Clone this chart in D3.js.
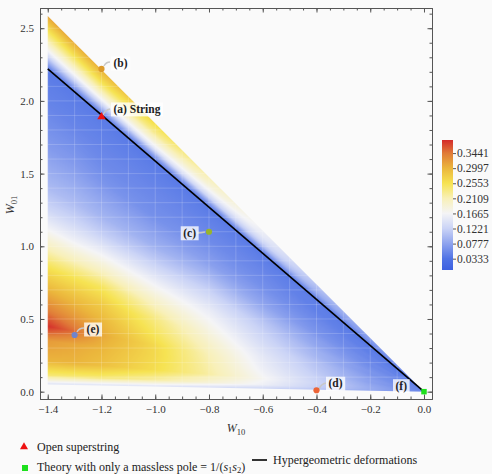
<!DOCTYPE html>
<html>
<head>
<meta charset="utf-8">
<script src="https://cdn.jsdelivr.net/npm/d3@7"></script>
<style>
  body { margin: 0; background: #fafafa; }
  svg { display: block; font-family: "Liberation Serif", serif; }
</style>
</head>
<body>
<svg id="chart"></svg>
<script>
// density field, sampled along columns of W10 and rays of slope t = W01 / -W10
const fieldX = [-1.4, -1.3, -1.2, -1.0, -0.8, -0.6, -0.4, -0.2, 0.0];
const fieldT = [0.04, 0.08, 0.15, 0.25, 0.32, 0.4, 0.5, 0.6, 0.7, 0.8, 0.9, 1.0, 1.1, 1.2,
                1.3, 1.4, 1.5, 1.586, 1.62, 1.67, 1.72, 1.78, 1.843];
const fieldValues = [
  [0.15, 0.15, 0.15, 0.15, 0.14, 0.13, 0.11, 0.08, 0.05],
  [0.24, 0.24, 0.24, 0.22, 0.19, 0.16, 0.12, 0.085, 0.05],
  [0.30, 0.30, 0.29, 0.26, 0.22, 0.17, 0.125, 0.085, 0.05],
  [0.32, 0.31, 0.30, 0.265, 0.215, 0.16, 0.12, 0.08, 0.05],
  [0.38, 0.35, 0.31, 0.265, 0.21, 0.155, 0.115, 0.075, 0.05],
  [0.34, 0.32, 0.30, 0.25, 0.20, 0.15, 0.11, 0.075, 0.05],
  [0.30, 0.29, 0.28, 0.235, 0.185, 0.14, 0.105, 0.07, 0.05],
  [0.26, 0.255, 0.25, 0.205, 0.17, 0.13, 0.095, 0.065, 0.05],
  [0.21, 0.205, 0.20, 0.175, 0.155, 0.12, 0.09, 0.065, 0.05],
  [0.165, 0.16, 0.16, 0.145, 0.135, 0.11, 0.08, 0.06, 0.05],
  [0.125, 0.125, 0.12, 0.115, 0.115, 0.095, 0.075, 0.055, 0.05],
  [0.10, 0.10, 0.095, 0.09, 0.095, 0.08, 0.065, 0.055, 0.05],
  [0.085, 0.085, 0.08, 0.075, 0.075, 0.07, 0.06, 0.05, 0.045],
  [0.07, 0.07, 0.065, 0.06, 0.065, 0.06, 0.055, 0.05, 0.045],
  [0.06, 0.06, 0.055, 0.055, 0.055, 0.055, 0.05, 0.045, 0.045],
  [0.05, 0.05, 0.05, 0.05, 0.05, 0.05, 0.045, 0.045, 0.04],
  [0.045, 0.045, 0.045, 0.045, 0.045, 0.045, 0.045, 0.04, 0.04],
  [0.04, 0.04, 0.04, 0.04, 0.04, 0.04, 0.04, 0.04, 0.04],
  [0.09, 0.09, 0.09, 0.08, 0.07, 0.065, 0.055, 0.05, 0.045],
  [0.16, 0.16, 0.16, 0.15, 0.125, 0.105, 0.075, 0.055, 0.045],
  [0.21, 0.21, 0.21, 0.19, 0.16, 0.13, 0.09, 0.065, 0.045],
  [0.26, 0.26, 0.26, 0.23, 0.19, 0.15, 0.10, 0.07, 0.045],
  [0.31, 0.305, 0.30, 0.26, 0.21, 0.16, 0.11, 0.075, 0.045]
];

// outline of the sampled region
const regionX = [-1.4, -1.4, 0.0];
const regionY = [0.049, 2.584, 0.0];

// hypergeometric deformations line
const hyperX = [-1.4, 0.0];
const hyperY = [2.22, 0.0];

// marked theories
const pointLabels = ["(a) String", "(b)", "(c)", "(d)", "(e)", "(f)"];
const pointX = [-1.2, -1.2, -0.8, -0.4, -1.3, 0.0];
const pointY = [1.89, 2.22, 1.10, 0.01, 0.39, 0.0];

// axis ticks
const xTicks = [-1.4, -1.2, -1.0, -0.8, -0.6, -0.4, -0.2, 0.0];
const yTicks = [0.0, 0.5, 1.0, 1.5, 2.0, 2.5];
const barTicks = [0.0333, 0.0777, 0.1221, 0.1665, 0.2109, 0.2553, 0.2997, 0.3441];
const barMax = 0.3826;
const barStops = [0, 0.0333, 0.0777, 0.1221, 0.1665, 0.2109, 0.2553, 0.2997, 0.3441, 0.3826];
const barColors = ["#3d60e0", "#5073e5", "#8ea3ee", "#cad3f6", "#f4f4f6", "#f8f0b8",
                   "#f6e352", "#ebb63c", "#e07a38", "#d42a2a"];

const width = 492, height = 474;
const svg = d3.select("#chart").attr("width", width).attr("height", height);

const pLeft = 40, pRight = 432, pTop = 8, pBottom = 399;
const x = d3.scaleLinear().domain([-1.4288, 0.0298]).range([pLeft, pRight]);
const y = d3.scaleLinear().domain([-0.0504, 2.639]).range([pBottom, pTop]);
const color = d3.scaleLinear().domain(barStops).range(barColors).interpolate(d3.interpolateRgb);

// ---- density image ----
function lookup(arr, v) {
  let i = d3.bisectRight(arr, v) - 1;
  i = Math.max(0, Math.min(arr.length - 2, i));
  let f = (v - arr[i]) / (arr[i + 1] - arr[i]);
  return [i, Math.max(0, Math.min(1, f))];
}
function fieldAt(X, Y) {
  const xc = Math.max(-1.4, Math.min(0, X));
  const t = Y / Math.max(-xc, 1e-4);
  const [i, fx] = lookup(fieldX, xc);
  const [j, ft] = lookup(fieldT, Math.max(0.04, Math.min(1.843, t)));
  const a = fieldValues[j][i], b = fieldValues[j][i + 1];
  const c = fieldValues[j + 1][i], d = fieldValues[j + 1][i + 1];
  return (a * (1 - fx) + b * fx) * (1 - ft) + (c * (1 - fx) + d * fx) * ft;
}

const lut = d3.range(512).map(k => d3.rgb(color(k / 511 * barMax)));
const W = pRight - pLeft, H = pBottom - pTop;
const canvas = document.createElement("canvas");
canvas.width = W; canvas.height = H;
const ctx = canvas.getContext("2d");
const img = ctx.createImageData(W, H);
for (let j = 0; j < H; j++) {
  for (let i = 0; i < W; i++) {
    const v = fieldAt(x.invert(pLeft + i + 0.5), y.invert(pTop + j + 0.5));
    const c = lut[Math.max(0, Math.min(511, Math.round(v / barMax * 511)))];
    const p = (j * W + i) * 4;
    img.data[p] = c.r; img.data[p + 1] = c.g; img.data[p + 2] = c.b; img.data[p + 3] = 255;
  }
}
ctx.putImageData(img, 0, 0);

const defs = svg.append("defs");
defs.append("clipPath").attr("id", "wedge")
  .append("polygon")
  .attr("points", regionX.map((d, i) => [x(d), y(regionY[i])].join(",")).join(" "));

const field = svg.append("g").attr("clip-path", "url(#wedge)");
field.append("image")
  .attr("x", pLeft).attr("y", pTop)
  .attr("width", W).attr("height", H)
  .attr("preserveAspectRatio", "none")
  .attr("href", canvas.toDataURL());

// faint mesh seams of the sampled plot
const meshX = d3.range(-14, 1).map(k => k * 0.1);
const meshY = d3.range(0, 27).map(k => k * 0.1);
field.selectAll(".mx").data(meshX).join("line")
  .attr("x1", d => x(d)).attr("x2", d => x(d)).attr("y1", pTop).attr("y2", pBottom)
  .attr("stroke", "#fff").attr("stroke-opacity", 0.18).attr("stroke-width", 1);
field.selectAll(".my").data(meshY).join("line")
  .attr("y1", d => y(d)).attr("y2", d => y(d)).attr("x1", pLeft).attr("x2", pRight)
  .attr("stroke", "#fff").attr("stroke-opacity", 0.18).attr("stroke-width", 1);

// ---- hypergeometric line ----
svg.append("path")
  .attr("d", d3.line()(hyperX.map((d, i) => [x(d), y(hyperY[i])])))
  .attr("stroke", "#000").attr("stroke-width", 1.6).attr("fill", "none");

// ---- frame with inward ticks ----
const fmt = d3.format(".1f");
const xMinor = d3.range(-28, 1).map(k => k * 0.05);
const yMinor = d3.range(0, 27).map(k => k * 0.1);

function frameAxis(axis, tr, vals, size, labels) {
  const g = svg.append("g").attr("transform", tr)
    .call(axis.tickValues(vals).tickSizeInner(-size).tickSizeOuter(0).tickPadding(6)
      .tickFormat(labels ? fmt : ""));
  g.select(".domain").attr("stroke", "#555");
  g.selectAll(".tick line").attr("stroke", "#555");
  g.selectAll("text").attr("font-size", 11).attr("fill", "#333")
    .attr("font-family", "Liberation Serif");
  return g;
}
frameAxis(d3.axisBottom(x), `translate(0,${pBottom})`, xMinor, 2.5, false);
frameAxis(d3.axisBottom(x), `translate(0,${pBottom})`, xTicks, 4.5, true);
frameAxis(d3.axisTop(x), `translate(0,${pTop})`, xMinor, 2.5, false);
frameAxis(d3.axisTop(x), `translate(0,${pTop})`, xTicks, 4.5, false);
frameAxis(d3.axisLeft(y), `translate(${pLeft},0)`, yMinor, 2.5, false);
frameAxis(d3.axisLeft(y), `translate(${pLeft},0)`, yTicks, 4.5, true);
frameAxis(d3.axisRight(y), `translate(${pRight},0)`, yMinor, 2.5, false);
frameAxis(d3.axisRight(y), `translate(${pRight},0)`, yTicks, 4.5, false);

// axis titles
const xt = svg.append("text").attr("x", 236).attr("y", 432)
  .attr("text-anchor", "middle").attr("font-size", 12).attr("fill", "#333");
xt.append("tspan").attr("font-style", "italic").text("W");
xt.append("tspan").attr("font-size", 8.5).attr("dy", 3).text("10");

const yt = svg.append("text").attr("transform", "translate(14,205) rotate(-90)")
  .attr("text-anchor", "middle").attr("font-size", 12).attr("fill", "#333");
yt.append("tspan").attr("font-style", "italic").text("W");
yt.append("tspan").attr("font-size", 8.5).attr("dy", 3).text("01");

// ---- annotations ----
const labelLayout = [
  { dx: 12, dy: -8, anchor: "start", curve: [[103, 115], [105, 110], [110, 109]] },
  { dx: 12, dy: -6, anchor: "start", curve: [[104, 66], [106, 62], [110, 62]] },
  { dx: -13, dy: 1, anchor: "end", curve: [[205, 232], [201, 233], [197, 233]] },
  { dx: 12, dy: -7, anchor: "start", curve: [[319, 389], [321, 384], [326, 383]] },
  { dx: 12, dy: -6, anchor: "start", curve: [[77, 332], [79, 328], [84, 328]] },
  { dx: -17, dy: -6, anchor: "end", curve: null }
];
const markStyle = [
  { shape: d3.symbolTriangle, size: 30, fill: "#ee1111" },
  { shape: d3.symbolCircle, size: 30, fill: "#dc9a2a" },
  { shape: d3.symbolCircle, size: 30, fill: "#98b42c" },
  { shape: d3.symbolCircle, size: 30, fill: "#ec6436" },
  { shape: d3.symbolCircle, size: 30, fill: "#7084cc" },
  { shape: d3.symbolSquare, size: 30, fill: "#1ee01e" }
];

pointLabels.forEach((lab, i) => {
  const px = x(pointX[i]), py = y(pointY[i]);
  const L = labelLayout[i];
  if (L.curve) {
    svg.append("path")
      .attr("d", `M${L.curve[0]}Q${L.curve[1]} ${L.curve[2]}`)
      .attr("fill", "none").attr("stroke", "#c8c8c8").attr("stroke-width", 1.5);
  }
  const tx = px + L.dx, ty = py + L.dy;
  const t = svg.append("text").attr("x", tx).attr("y", ty)
    .attr("dy", "0.35em").attr("text-anchor", L.anchor)
    .attr("font-size", 11.5).attr("font-weight", "bold").attr("fill", "#222")
    .text(lab);
  const bb = t.node().getBBox();
  svg.insert("rect", () => t.node())
    .attr("x", bb.x - 2.5).attr("y", bb.y - 0.5)
    .attr("width", bb.width + 5).attr("height", bb.height + 1)
    .attr("fill", "rgba(255,255,255,0.78)");
  svg.append("path")
    .attr("transform", `translate(${px},${py})`)
    .attr("d", d3.symbol().type(markStyle[i].shape).size(markStyle[i].size)())
    .attr("fill", markStyle[i].fill);
});

// ---- colour bar ----
const bar = d3.scaleLinear().domain([0, barMax]).range([270, 140]);
const grad = defs.append("linearGradient").attr("id", "bargrad")
  .attr("x1", 0).attr("y1", 1).attr("x2", 0).attr("y2", 0);
grad.selectAll("stop").data(barStops).join("stop")
  .attr("offset", d => d / barMax)
  .attr("stop-color", (d, i) => barColors[i]);
svg.append("rect").attr("x", 442).attr("y", 140).attr("width", 11).attr("height", 130)
  .attr("fill", "url(#bargrad)");
const bg = svg.append("g").attr("transform", "translate(453,0)")
  .call(d3.axisRight(bar).tickValues(barTicks).tickSize(3).tickPadding(1)
    .tickFormat(d3.format(".4f")));
bg.select(".domain").remove();
bg.selectAll(".tick line").attr("stroke", "#555");
bg.selectAll("text").attr("font-size", 11.5).attr("fill", "#333")
  .attr("font-family", "Liberation Serif");

// ---- legend ----
svg.append("path").attr("transform", "translate(24,447)")
  .attr("d", d3.symbol().type(d3.symbolTriangle).size(28)()).attr("fill", "#ee1111");
svg.append("text").attr("x", 37).attr("y", 451).attr("font-size", 12).attr("fill", "#222")
  .text("Open superstring");

svg.append("rect").attr("x", 22).attr("y", 465).attr("width", 6).attr("height", 6)
  .attr("fill", "#1ee01e");
const lt = svg.append("text").attr("x", 37).attr("y", 471).attr("font-size", 12).attr("fill", "#222");
lt.append("tspan").text("Theory with only a massless pole = 1/(");
lt.append("tspan").attr("font-style", "italic").text("s");
lt.append("tspan").attr("font-size", 8.5).attr("dy", 1.5).text("1");
lt.append("tspan").attr("font-style", "italic").attr("dy", -1.5).text("s");
lt.append("tspan").attr("font-size", 8.5).attr("dy", 1.5).text("2");
lt.append("tspan").attr("dy", -1.5).text(")");

svg.append("line").attr("x1", 252).attr("x2", 267).attr("y1", 460).attr("y2", 460)
  .attr("stroke", "#000").attr("stroke-width", 1.6);
svg.append("text").attr("x", 273).attr("y", 464).attr("font-size", 12).attr("fill", "#222")
  .text("Hypergeometric deformations");
</script>
</body>
</html>
